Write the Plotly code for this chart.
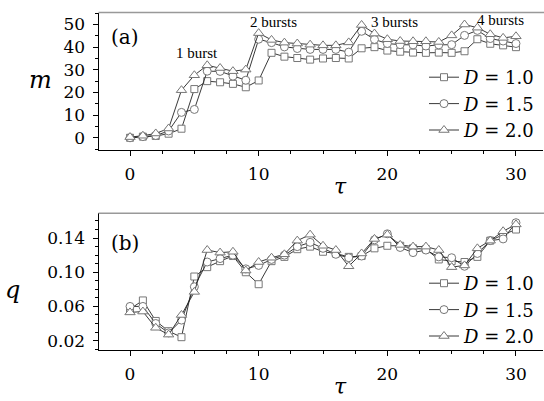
import plotly.graph_objects as go

tau = list(range(31))

# panel (a): m
m_d10 = [0, 0.5, 0.8, 1.8, 4.0, 21.5, 25.0, 24.5, 23.8, 22.3, 25.3, 37.5, 35.8, 35.2, 34.5, 35.0,
         35.2, 35.0, 39.5, 40.0, 38.5, 38.0, 37.6, 37.5, 37.6, 37.5, 38.2, 43.5, 41.5, 40.8, 40.0]
m_d15 = [0, 0.5, 1.0, 3.0, 11.2, 12.5, 29.4, 29.3, 27.2, 25.4, 43.5, 42.0, 40.1, 39.4, 39.0, 39.0,
         39.0, 37.8, 47.0, 43.4, 41.6, 41.1, 41.0, 40.5, 41.0, 41.1, 45.2, 47.4, 43.8, 42.7, 41.6]
m_d20 = [0.3, 0.9, 1.9, 4.1, 21.0, 27.6, 32.0, 30.8, 29.4, 30.1, 46.2, 43.2, 42.0, 41.6, 41.1, 40.8,
         40.8, 42.1, 49.8, 46.0, 43.5, 42.7, 42.6, 42.6, 42.3, 45.2, 50.0, 48.6, 45.7, 44.1, 44.8]

# panel (b): q
q_d10 = [0.057, 0.067, 0.043, 0.031, 0.024, 0.095, 0.106, 0.113, 0.119, 0.100, 0.086, 0.113, 0.118,
         0.127, 0.130, 0.124, 0.122, 0.118, 0.119, 0.128, 0.131, 0.131, 0.128, 0.127, 0.115, 0.113,
         0.112, 0.118, 0.137, 0.144, 0.150]
q_d15 = [0.060, 0.060, 0.040, 0.029, 0.044, 0.083, 0.112, 0.116, 0.120, 0.104, 0.108, 0.115, 0.120,
         0.130, 0.135, 0.128, 0.121, 0.117, 0.119, 0.138, 0.145, 0.129, 0.123, 0.126, 0.118, 0.117,
         0.107, 0.122, 0.137, 0.139, 0.158]
q_d20 = [0.053, 0.054, 0.035, 0.027, 0.050, 0.077, 0.126, 0.123, 0.124, 0.102, 0.112, 0.117, 0.121,
         0.137, 0.144, 0.131, 0.126, 0.107, 0.122, 0.139, 0.144, 0.132, 0.130, 0.130, 0.126, 0.106,
         0.108, 0.128, 0.137, 0.148, 0.156]

series_names = ["<i>D</i> = 1.0", "<i>D</i> = 1.5", "<i>D</i> = 2.0"]
symbols = ["square", "circle", "triangle-up"]
sizes = [7, 8, 9]

burst_labels = ["1 burst", "2 bursts", "3 bursts", "4 bursts"]

W, H = 544, 401
def px(x):
    return x / W
def py(y):
    return 1 - y / H

SERIF = "DejaVu Serif"
fig = go.Figure()

for ys, ax, leg in [((m_d10, m_d15, m_d20), ("x", "y"), "legend"),
                    ((q_d10, q_d15, q_d20), ("x2", "y2"), "legend2")]:
    for i, yv in enumerate(ys):
        fig.add_trace(go.Scatter(
            x=tau, y=yv, xaxis=ax[0], yaxis=ax[1], mode="lines+markers",
            name=series_names[i], legend=leg,
            line=dict(color="#222222", width=0.9),
            marker=dict(symbol=symbols[i], size=sizes[i], color="white",
                        line=dict(color="#777777", width=1)),
        ))

axis_common = dict(showgrid=False, zeroline=False, showline=True, linecolor="black", linewidth=1,
                   ticks="outside", ticklen=5, tickcolor="black", tickwidth=1,
                   tickfont=dict(family=SERIF, size=17, color="black"))

xr = [-2.45, 32.1]
fig.update_layout(
    width=W, height=H, margin=dict(l=0, r=0, t=0, b=0),
    paper_bgcolor="white", plot_bgcolor="white",
    xaxis=dict(domain=[px(98.5), px(543)], range=xr, anchor="y", dtick=10, tick0=0,
               minor=dict(dtick=2.5, ticklen=3, ticks="outside", tickcolor="black"),
               ticklabelstandoff=4, **axis_common),
    yaxis=dict(domain=[py(150), py(12.5)], range=[-5.4, 55.3], anchor="x", dtick=10, tick0=0,
               minor=dict(dtick=5, ticklen=3, ticks="outside", tickcolor="black"),
               ticklabelstandoff=4, **axis_common),
    xaxis2=dict(domain=[px(98.5), px(543)], range=xr, anchor="y2", dtick=10, tick0=0,
                minor=dict(dtick=2.5, ticklen=3, ticks="outside", tickcolor="black"),
                ticklabelstandoff=4, **axis_common),
    yaxis2=dict(domain=[py(350), py(213.3)], range=[0.009, 0.169], anchor="x2", dtick=0.04,
                tick0=0.02, tickformat=".2f",
                minor=dict(dtick=0.01, ticklen=3, ticks="outside", tickcolor="black"),
                ticklabelstandoff=4, **axis_common),
    legend=dict(x=px(540), xanchor="right", y=py(59), yanchor="top", bgcolor="rgba(0,0,0,0)",
                font=dict(family=SERIF, size=18, color="black"), itemwidth=30,
                tracegroupgap=0),
    legend2=dict(x=px(540), xanchor="right", y=py(265), yanchor="top", bgcolor="rgba(0,0,0,0)",
                 font=dict(family=SERIF, size=18, color="black"), itemwidth=30,
                 tracegroupgap=0),
    showlegend=True,
)

# gray top frame lines
for ytop in (12.5, 213.3):
    fig.add_shape(type="line", xref="paper", yref="paper", x0=px(98.5), x1=px(544),
                  y0=py(ytop), y1=py(ytop), line=dict(color="#999999", width=1.5))

def ann(text, x, y, size, italic=False, family=SERIF):
    fig.add_annotation(text=(f"<i>{text}</i>" if italic else text), xref="paper", yref="paper",
                       x=px(x), y=py(y), showarrow=False, xanchor="center", yanchor="middle",
                       font=dict(family=family, size=size, color="black"))

ann("(a)", 125, 37, 20)
ann("(b)", 125, 243, 20)
ann("m", 40, 80, 24, italic=True)
ann("q", 12, 290, 24, italic=True)
ann("τ", 340, 187, 22, italic=True)
ann("τ", 340, 386, 22, italic=True)

burst_pos = [(197, 53), (273, 22), (394, 22), (500, 20)]
for lab, (bx, by) in zip(burst_labels, burst_pos):
    ann(lab, bx, by, 15, family="Liberation Serif")

fig.write_html("out.html", config={"displayModeBar": False},
               post_script="document.body.style.margin='0';document.body.style.padding='0';"
                           "document.documentElement.style.overflow='hidden';")
